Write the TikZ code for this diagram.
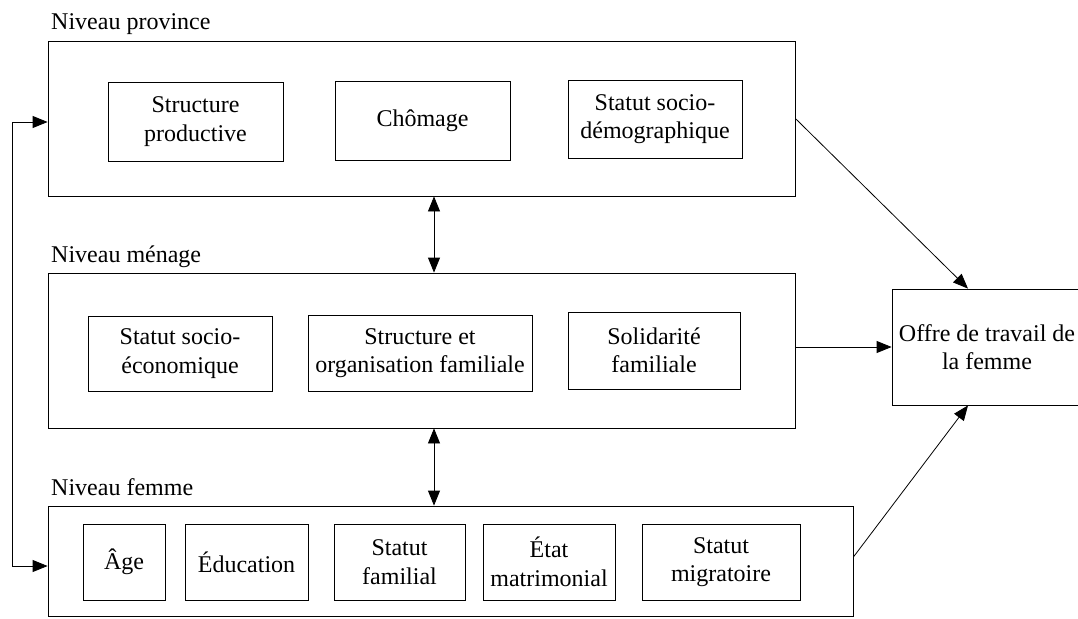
\documentclass[tikz,border=0pt]{standalone}
\usepackage{fontspec}
\setmainfont{Liberation Serif}
\newfontfamily\tnr{Liberation Serif}
\usetikzlibrary{arrows.meta}
\begin{document}
\begin{tikzpicture}[x=1pt,y=-1pt,
  box/.style={draw=black, line width=0.8pt, inner sep=0pt, align=center,
    font=\tnr\fontsize{24}{28.5}\selectfont},
  cont/.style={draw=black, line width=0.8pt, inner sep=0pt},
  lvl/.style={anchor=base west, inner sep=0pt, font=\tnr\fontsize{24}{28.5}\selectfont},
  conn/.style={line width=0.8pt, -{Triangle[length=15pt,width=12pt]}},
  dconn/.style={line width=0.8pt, {Triangle[length=15pt,width=12pt]}-{Triangle[length=15pt,width=12pt]}}
]
\useasboundingbox (0,0) rectangle (1078,618);

% containers
\node[cont, minimum width=747pt, minimum height=155pt] (prov) at (421.5,118.5) {};
\node[cont, minimum width=747pt, minimum height=155pt] (men) at (421.5,350.5) {};
\node[cont, minimum width=805pt, minimum height=110pt] (fem) at (450.5,561) {};
\node[box, minimum width=190pt, minimum height=116pt] (offre) at (987,347) {Offre de travail de\\la femme};

% level labels
\node[lvl] (lp) at (51,30) {Niveau province};
\node[lvl] (lm) at (51,262) {Niveau ménage};
\node[lvl] (lf) at (51,495) {Niveau femme};

% province
\node[box, minimum width=175pt, minimum height=79pt] (sp) at (195.5,121.5) {Structure\\productive};
\node[box, minimum width=175pt, minimum height=79pt] (cho) at (422.5,120.5) {Chômage};
\node[box, minimum width=174pt, minimum height=78pt] (ssd) at (655,119) {Statut socio-\\démographique};

% menage
\node[box, minimum width=184pt, minimum height=75pt] (sse) at (180,353.5) {Statut socio-\\économique};
\node[box, minimum width=224pt, minimum height=76pt] (sof) at (420,353) {Structure et\\organisation familiale};
\node[box, minimum width=172pt, minimum height=77pt] (sol) at (654,350.5) {Solidarité\\familiale};

% femme
\node[box, minimum width=82pt, minimum height=76pt] (age) at (124,562) {Âge};
\node[box, minimum width=123pt, minimum height=76pt] (edu) at (246.5,562) {Éducation};
\node[box, minimum width=131pt, minimum height=76pt] (sfa) at (399.5,562) {Statut\\familial};
\node[box, minimum width=132pt, minimum height=76pt] (etm) at (549,562) {État\\matrimonial};
\node[box, minimum width=158pt, minimum height=76pt] (smi) at (721,562) {Statut\\migratoire};

% connectors
\coordinate (fb1) at (12,122);
\coordinate (fb2) at (12,566);
\coordinate (da) at (434,0);
\draw[dconn] (prov.west |- fb1) -- (fb1) -- (fb2) -- (fem.west |- fb2);
\draw[dconn] (prov.south -| da) -- (men.north -| da);
\draw[dconn] (men.south -| da) -- (fem.north -| da);
\draw[conn] (men.east |- offre.west) -- (offre.west);
\draw[conn] (prov.east) -- ([xshift=-19pt]offre.north);
\draw[conn] ([yshift=4pt]fem.east) -- ([xshift=-19pt]offre.south);
\end{tikzpicture}
\end{document}
